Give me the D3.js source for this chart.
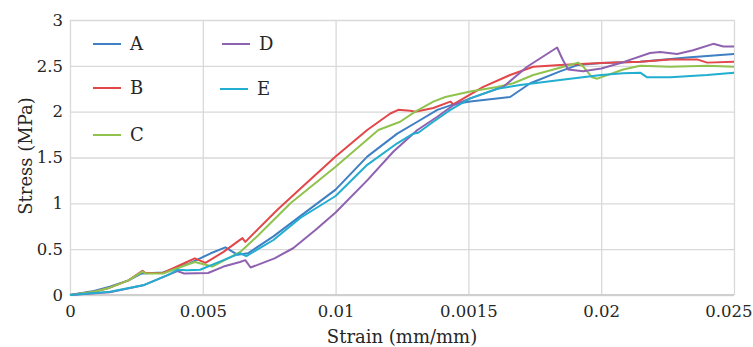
<!DOCTYPE html>
<html>
<head>
<meta charset="utf-8">
<script src="https://cdn.jsdelivr.net/npm/d3@7"></script>
<style>
  body { margin: 0; background: #fff; }
  svg { display: block; }
  text { font-family: "DejaVu Serif", serif; fill: #262626; }
</style>
</head>
<body>
<svg width="753" height="347"></svg>
<script>
// Series names and colours
const seriesNames = ["A", "B", "C", "D", "E"];
const seriesColors = ["#3f7fc4", "#e2474a", "#90c24e", "#8e62b0", "#22aed0"];

// Tick labels as printed on the chart (the 0.015 label reads "0.0015")
const xTickValues = [0, 0.005, 0.01, 0.015, 0.02, 0.025];
const xTickLabels = ["0", "0.005", "0.01", "0.0015", "0.02", "0.025"];
const yTickValues = [0, 0.5, 1, 1.5, 2, 2.5, 3];
const yTickLabels = ["0", "0.5", "1", "1.5", "2", "2.5", "3"];

// [strain, stress]
const seriesA = [[0,0],[0.0009,0.045],[0.0015,0.09],[0.0022,0.16],[0.0027,0.235],[0.0035,0.245],
  [0.0045,0.345],[0.0053,0.455],[0.00585,0.52],[0.0063,0.44],[0.0067,0.455],[0.00766,0.64],
  [0.00867,0.86],[0.01,1.15],[0.01119,1.51],[0.01232,1.76],[0.01308,1.89],[0.01383,2.02],
  [0.01443,2.08],[0.01507,2.11],[0.01657,2.16],[0.01733,2.31],[0.01845,2.44],[0.01913,2.51],
  [0.02,2.53],[0.02147,2.545],[0.02323,2.59],[0.025,2.63]];

const seriesB = [[0,0],[0.0009,0.035],[0.0015,0.08],[0.0022,0.16],[0.00273,0.265],[0.00284,0.24],
  [0.0035,0.24],[0.0044,0.36],[0.0047,0.40],[0.0051,0.35],[0.00578,0.47],[0.00649,0.62],
  [0.0066,0.58],[0.00781,0.93],[0.00867,1.16],[0.01,1.51],[0.01119,1.80],[0.01206,1.98],
  [0.01236,2.02],[0.01281,2.01],[0.013,2.0],[0.01368,2.04],[0.01432,2.11],[0.01443,2.08],
  [0.01556,2.27],[0.01657,2.40],[0.01744,2.49],[0.01845,2.51],[0.02,2.53],[0.02147,2.545],
  [0.0226,2.57],[0.02361,2.57],[0.02399,2.535],[0.025,2.545]];

const seriesC = [[0,0],[0.0009,0.035],[0.0015,0.08],[0.0022,0.16],[0.00273,0.255],[0.00284,0.235],
  [0.0035,0.235],[0.0044,0.33],[0.0047,0.36],[0.0051,0.33],[0.00536,0.31],[0.00641,0.47],
  [0.00705,0.64],[0.0083,1.0],[0.01,1.40],[0.01161,1.80],[0.01243,1.89],[0.013,2.0],
  [0.01368,2.11],[0.01413,2.16],[0.01507,2.22],[0.01608,2.27],[0.01669,2.31],[0.01744,2.40],
  [0.01845,2.48],[0.01913,2.535],[0.0193,2.5],[0.01966,2.375],[0.01985,2.36],[0.02083,2.46],
  [0.02147,2.50],[0.0226,2.49],[0.02399,2.5],[0.025,2.49]];

const seriesD = [[0,0],[0.0015,0.03],[0.0028,0.11],[0.0037,0.22],[0.00404,0.26],[0.0043,0.235],
  [0.0052,0.24],[0.00578,0.31],[0.0064,0.36],[0.0066,0.38],[0.0068,0.30],[0.0077,0.40],
  [0.0084,0.51],[0.00924,0.71],[0.01,0.90],[0.01119,1.25],[0.01218,1.565],[0.01308,1.80],
  [0.01383,1.945],[0.01443,2.07],[0.01507,2.145],[0.01631,2.27],[0.01721,2.49],[0.01834,2.70],
  [0.01853,2.58],[0.01875,2.46],[0.01932,2.44],[0.02,2.47],[0.02083,2.54],[0.02184,2.64],
  [0.02222,2.65],[0.02286,2.63],[0.02346,2.67],[0.02422,2.74],[0.0246,2.71],[0.025,2.71]];

const seriesE = [[0,0],[0.0015,0.036],[0.0028,0.11],[0.0037,0.22],[0.00404,0.275],[0.0044,0.27],
  [0.0049,0.275],[0.00578,0.38],[0.0064,0.455],[0.00664,0.425],[0.00766,0.60],[0.00867,0.84],
  [0.01,1.08],[0.01119,1.42],[0.01232,1.655],[0.01292,1.76],[0.01311,1.77],[0.01368,1.89],
  [0.01432,2.02],[0.01507,2.145],[0.01608,2.25],[0.01695,2.29],[0.01845,2.345],[0.02,2.40],
  [0.02083,2.42],[0.02147,2.425],[0.02173,2.375],[0.0226,2.375],[0.02399,2.40],[0.025,2.425]];

const allSeries = [seriesA, seriesB, seriesC, seriesD, seriesE];

const svg = d3.select("svg");
const margin = { top: 20, right: 19, bottom: 52, left: 70 };
const width = 753 - margin.left - margin.right,
    height = 347 - margin.top - margin.bottom;

const g = svg.append("g")
    .attr("transform", `translate(${margin.left},${margin.top})`);

const x = d3.scaleLinear().domain([0, 0.025]).range([0, width]);
const y = d3.scaleLinear().domain([0, 3]).range([height, 0]);

// Gridlines
const yAxis = g.append("g")
    .call(d3.axisLeft(y).tickValues(yTickValues).tickSize(-width)
        .tickFormat((d, i) => yTickLabels[i]).tickPadding(7));
yAxis.select(".domain").remove();
yAxis.selectAll("line").attr("stroke", "#d9d9d9").attr("stroke-width", 1.3);
yAxis.selectAll("text").attr("font-size", 16.5).attr("fill", "#262626");

const xAxis = g.append("g")
    .attr("transform", `translate(0,${height})`)
    .call(d3.axisBottom(x).tickValues(xTickValues).tickSize(-height)
        .tickFormat((d, i) => xTickLabels[i]).tickPadding(10));
xAxis.select(".domain").remove();
xAxis.selectAll("line").attr("stroke", "#d9d9d9").attr("stroke-width", 1.3);
xAxis.selectAll("text").attr("font-size", 16.5).attr("fill", "#262626");
// last label sits against the right edge of the picture
xAxis.selectAll(".tick").filter((d, i) => i === xTickValues.length - 1)
    .select("text").attr("text-anchor", "end").attr("x", 18);

// bottom axis line a bit darker
g.append("line")
    .attr("x1", 0).attr("x2", width)
    .attr("y1", y(0)).attr("y2", y(0))
    .attr("stroke", "#cfcfcf").attr("stroke-width", 1.8);

// Lines
const line = d3.line()
    .x(d => x(d[0]))
    .y(d => y(d[1]));

g.selectAll(".series")
    .data(allSeries)
    .enter().append("path")
    .attr("class", "series")
    .attr("fill", "none")
    .attr("stroke", (d, i) => seriesColors[i])
    .attr("stroke-width", 2)
    .attr("stroke-linejoin", "round")
    .attr("d", line);

// Legend (two columns inside the plot)
const legendPos = [[23, 24], [23, 68], [23, 115], [152, 24], [150, 69]];
const legend = g.selectAll(".legend")
    .data(seriesNames)
    .enter().append("g")
    .attr("class", "legend")
    .attr("transform", (d, i) => `translate(${legendPos[i][0]},${legendPos[i][1]})`);

legend.append("line")
    .attr("x1", 0).attr("x2", 28)
    .attr("stroke", (d, i) => seriesColors[i])
    .attr("stroke-width", 2);

legend.append("text")
    .attr("x", 37)
    .attr("dy", "0.36em")
    .attr("font-size", 18)
    .text(d => d);

// Axis titles
svg.append("text")
    .attr("x", margin.left + width / 2)
    .attr("y", 343)
    .attr("text-anchor", "middle")
    .attr("font-size", 18)
    .text("Strain (mm/mm)");

svg.append("text")
    .attr("transform", `translate(32,156) rotate(-90)`)
    .attr("text-anchor", "middle")
    .attr("font-size", 18)
    .text("Stress (MPa)");
</script>
</body>
</html>
